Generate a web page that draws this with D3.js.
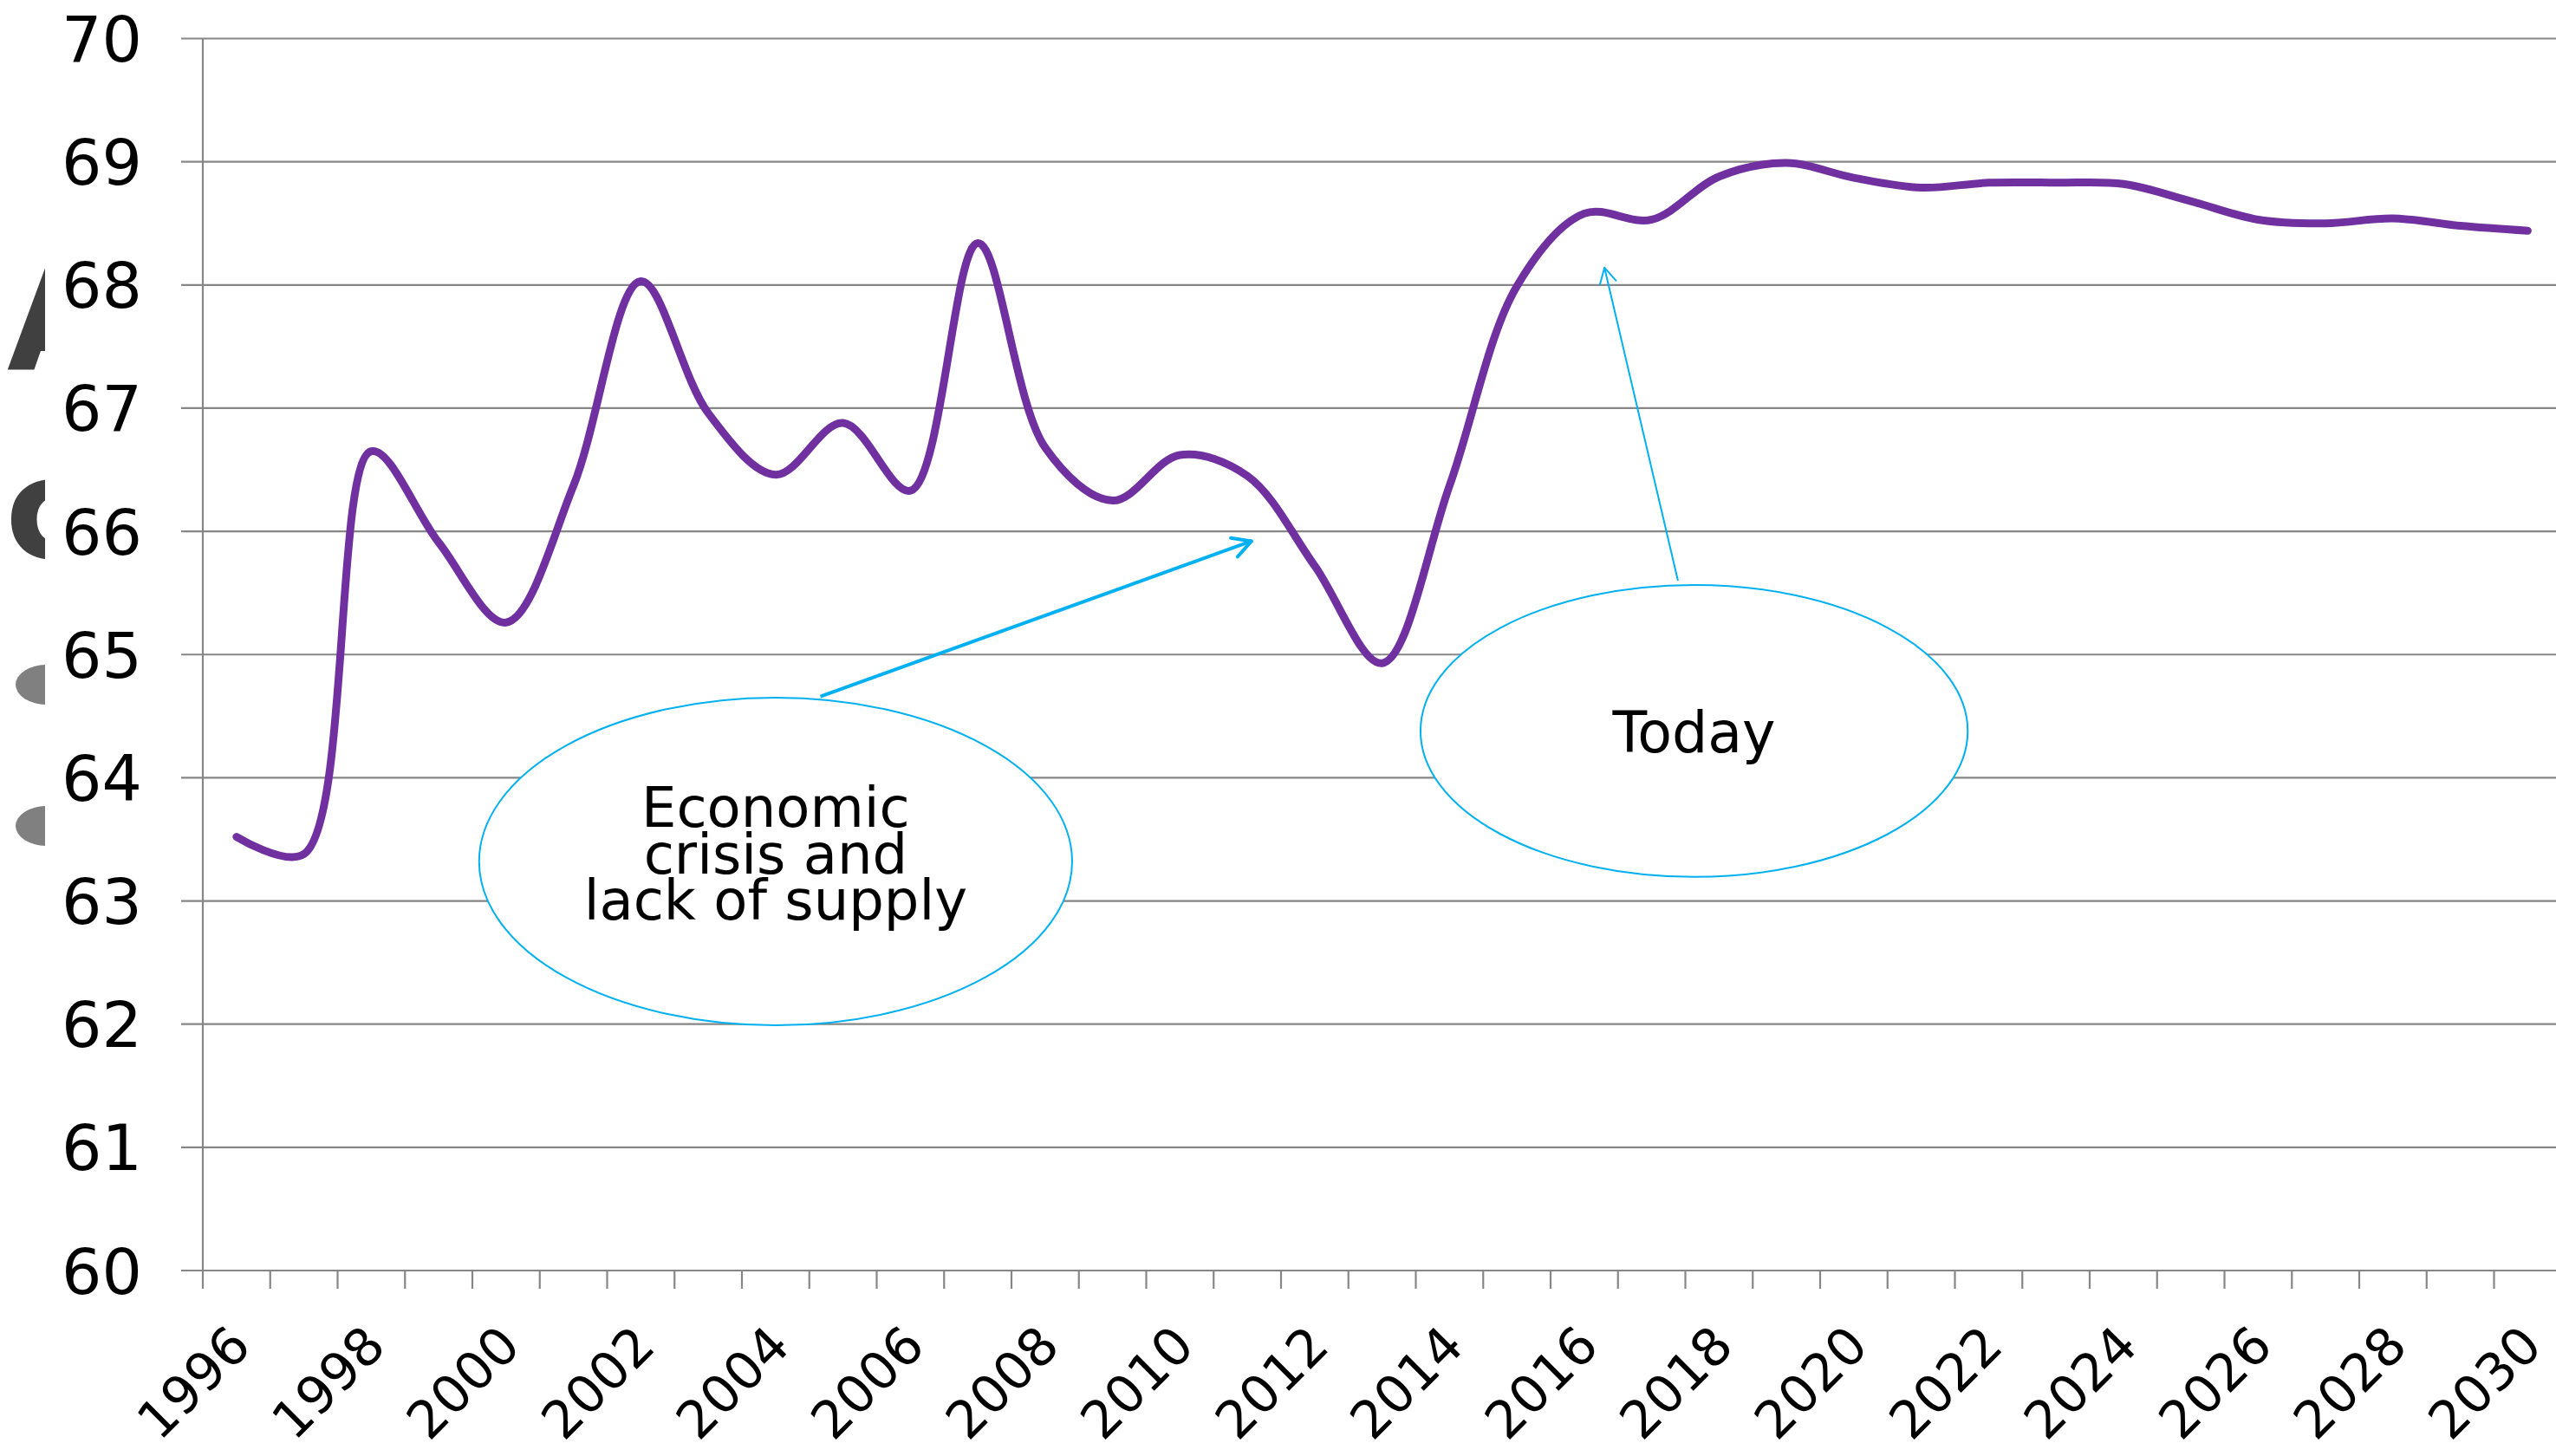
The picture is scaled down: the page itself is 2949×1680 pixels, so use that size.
<!DOCTYPE html>
<html>
<head>
<meta charset="utf-8">
<script src="https://cdn.jsdelivr.net/npm/d3@7"></script>
<style>
  body { margin: 0; background: #fff; }
  svg { display: block; }
  text { font-family: "DejaVu Sans", Verdana, sans-serif; }
</style>
</head>
<body>
<div id="chart"></div>
<script>
var years = [1996, 1997, 1998, 1999, 2000, 2001, 2002, 2003, 2004, 2005, 2006, 2007,
             2008, 2009, 2010, 2011, 2012, 2013, 2014, 2015, 2016, 2017, 2018, 2019,
             2020, 2021, 2022, 2023, 2024, 2025, 2026, 2027, 2028, 2029, 2030];

var values = [63.52, 63.38, 66.65, 65.91, 65.26, 66.37, 68.03, 66.96, 66.46, 66.88,
              66.33, 68.34, 66.68, 66.25, 66.62, 66.45, 65.72, 64.93, 66.37, 67.99,
              68.58, 68.53, 68.88, 68.99, 68.87, 68.79, 68.83, 68.83, 68.82, 68.68,
              68.53, 68.50, 68.54, 68.48, 68.44];

var yTicks = [60, 61, 62, 63, 64, 65, 66, 67, 68, 69, 70];

var xLabels = [1996, 1998, 2000, 2002, 2004, 2006, 2008, 2010, 2012, 2014, 2016,
               2018, 2020, 2022, 2024, 2026, 2028, 2030];

var crisisText = ["Economic", "crisis and", "lack of supply"];
var todayText = ["Today"];

var width = 2949, height = 1680;
var gridColor = "#868686";
var calloutColor = "#00B0F0";

var svg = d3.select("#chart").append("svg")
  .attr("width", width)
  .attr("height", height);

var x = d3.scaleBand().domain(years).range([234, 234 + years.length * 77.75]);
var y = d3.scaleLinear().domain([60, 70]).range([1466, 44.5]);
var bw = x.bandwidth();

// position in "band units" (0 = left edge of the plot) -> pixels
function bx(b){ return x.range()[0] + b * bw; }

// leftovers of the slide title peeking out behind the chart
var clip = svg.append("clipPath").attr("id", "leftClip");
clip.append("rect").attr("x", 0).attr("y", 0).attr("width", 52).attr("height", height);
var deco = svg.append("g").attr("clip-path", "url(#leftClip)");
deco.append("text")
  .attr("x", 8).attr("y", 427)
  .attr("font-size", 162).attr("font-weight", "bold")
  .attr("fill", "#404040")
  .text("A");
deco.append("text")
  .attr("x", 6).attr("y", 644)
  .attr("font-size", 162).attr("font-weight", "bold")
  .attr("fill", "#404040")
  .text("c");
deco.selectAll("ellipse")
  .data([790, 953]).enter()
  .append("ellipse")
    .attr("cx", 54).attr("cy", function(d){ return d; })
    .attr("rx", 36).attr("ry", 23)
    .attr("fill", "#808080");

// gridlines + left tick marks
svg.append("g").selectAll("line")
  .data(yTicks).enter()
  .append("line")
    .attr("x1", x.range()[0] - 25)
    .attr("x2", x.range()[1])
    .attr("y1", function(d){ return y(d); })
    .attr("y2", function(d){ return y(d); })
    .attr("stroke", gridColor)
    .attr("stroke-width", 2.2);

// vertical axis
svg.append("line")
  .attr("x1", x.range()[0]).attr("x2", x.range()[0])
  .attr("y1", y(70)).attr("y2", y(60))
  .attr("stroke", gridColor)
  .attr("stroke-width", 2.2);

// category tick marks (between categories)
var tickPos = years.map(function(d){ return x(d); }).concat([x.range()[1]]);
svg.append("g").selectAll("line")
  .data(tickPos).enter()
  .append("line")
    .attr("x1", function(d){ return d; })
    .attr("x2", function(d){ return d; })
    .attr("y1", y(60))
    .attr("y2", y(60) + 21)
    .attr("stroke", gridColor)
    .attr("stroke-width", 2.2);

// y labels
svg.append("g").selectAll("text")
  .data(yTicks).enter()
  .append("text")
    .attr("x", 164)
    .attr("y", function(d){ return y(d) + 26.5; })
    .attr("text-anchor", "end")
    .attr("font-size", 73)
    .attr("fill", "#000")
    .text(function(d){ return d; });

// x labels, rotated
svg.append("g").selectAll("text")
  .data(xLabels).enter()
  .append("text")
    .attr("transform", function(d){
      return "translate(" + (x(d) + bw / 2 + 19) + "," + (y(60) + 90) + ") rotate(-45)";
    })
    .attr("text-anchor", "end")
    .attr("font-size", 60)
    .attr("fill", "#000")
    .text(function(d){ return d; });

// the series
var line = d3.line()
  .x(function(d, i){ return x(years[i]) + bw / 2; })
  .y(function(d){ return y(d); })
  .curve(d3.curveCatmullRom.alpha(0.5));

svg.append("path")
  .datum(values)
  .attr("d", line)
  .attr("fill", "none")
  .attr("stroke", "#7030A0")
  .attr("stroke-width", 9)
  .attr("stroke-linecap", "round")
  .attr("stroke-linejoin", "round");

// callouts
function arrow(g, x1, y1, x2, y2, w, len, ang){
  g.append("line")
    .attr("x1", x1).attr("y1", y1).attr("x2", x2).attr("y2", y2)
    .attr("stroke", calloutColor).attr("stroke-width", w);
  var a = Math.atan2(y2 - y1, x2 - x1) + Math.PI;
  [-ang, ang].forEach(function(s){
    g.append("line")
      .attr("x1", x2).attr("y1", y2)
      .attr("x2", x2 + len * Math.cos(a + s))
      .attr("y2", y2 + len * Math.sin(a + s))
      .attr("stroke", calloutColor).attr("stroke-width", w)
      .attr("stroke-linecap", "round");
  });
}

function callout(cb, cv, rb, rv, lines, fs, lh, dy){
  var g = svg.append("g");
  var cx = bx(cb), cy = y(cv);
  g.append("ellipse")
    .attr("cx", cx).attr("cy", cy)
    .attr("rx", rb * bw)
    .attr("ry", y(60) - y(60 + rv))
    .attr("fill", "#fff")
    .attr("stroke", calloutColor)
    .attr("stroke-width", 2);
  g.selectAll("text")
    .data(lines).enter()
    .append("text")
      .attr("x", cx)
      .attr("y", function(d, i){ return cy + dy + i * lh; })
      .attr("text-anchor", "middle")
      .attr("font-size", fs)
      .attr("fill", "#000")
      .text(function(d){ return d; });
  return g;
}

var crisis = callout(8.5, 63.32, 4.4, 1.33, crisisText, 64, 53.5, -40);
arrow(crisis, bx(9.165), y(64.66), bx(15.56), y(65.92), 4, 24, 0.5);

var today = callout(22.13, 64.38, 4.06, 1.185, todayText, 65, 0, 25);
arrow(today, bx(21.89), y(65.60), bx(20.80), y(68.14), 2, 20, 0.5);
</script>
</body>
</html>
